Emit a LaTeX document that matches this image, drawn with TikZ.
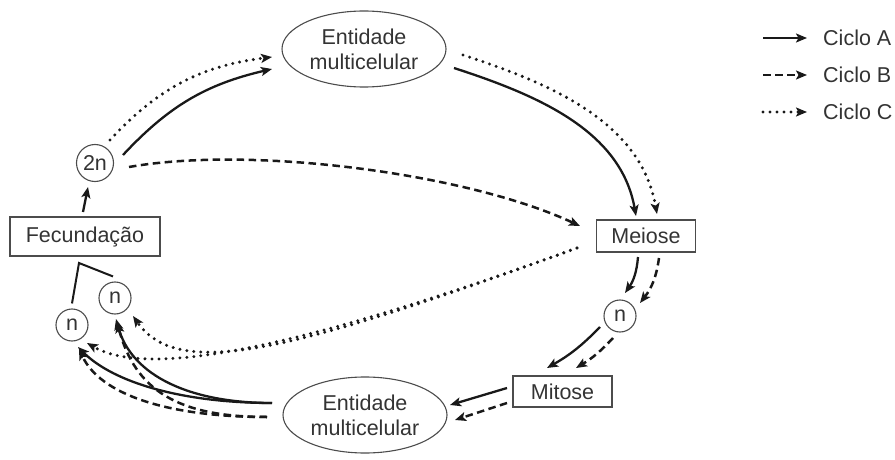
\documentclass[tikz,border=0pt]{standalone}
\usepackage{fontspec}
\setmainfont{Liberation Sans}
\usetikzlibrary{arrows.meta,shapes.geometric,positioning}

\begin{document}
\begin{tikzpicture}[x=1pt,y=1pt,
        every node/.style={text=black!80,font=\fontsize{21.5}{25}\selectfont,align=center},
        entidade/.style={ellipse,draw=black!70,line width=1.1pt,minimum width=164pt,minimum height=76pt,inner sep=0},
        caixa/.style={rectangle,draw=black!70,line width=1.1pt,inner sep=0},
        celula/.style={circle,draw=black!70,line width=1.1pt,minimum size=32pt,inner sep=0},
        cicloA/.style={draw=black!90,line width=2.3pt,-{Stealth[length=11pt,width=9pt,inset=2.5pt]}},
        cicloB/.style={cicloA,line width=2.5pt,dash pattern=on 7.5pt off 4.5pt},
        cicloC/.style={cicloA,line width=3.3pt,line cap=round,dash pattern=on 0pt off 7pt},
        ligacao/.style={draw=black!90,line width=2pt},
        ]
\useasboundingbox (0,0) rectangle (895,459);

\node[entidade] (ent1) at (364,410) {Entidade\\multicelular};
\node[entidade] (ent2) at (365,44) {Entidade\\multicelular};
\node[celula,minimum size=37pt] (zig) at (95,296) {2n};
\node[caixa,minimum width=150pt,minimum height=39pt] (fec) at (85,222.5) {Fecundação};
\node[caixa,minimum width=99pt,minimum height=32pt] (mei) at (646,223) {Meiose};
\node[celula] (n1) at (620,143) {n};
\node[caixa,minimum width=99pt,minimum height=31pt] (mit) at (562.5,67.5) {Mitose};
\node[celula] (n2) at (72,134) {n};
\node[celula] (n3) at (115,161) {n};
\coordinate (canto) at (79,196);

% gametas -> fecundacao
\draw[ligacao] ([yshift=5pt]n2.north) -- (canto) -- ([shift={(-2,5)}]n3.north);

% ciclo A
\draw[cicloA] ([shift={(-2,24.5)}]fec.center) -- ([shift={(-7,-24)}]zig.center);
\draw[cicloA] ([shift={(28,8)}]zig.center) to[bend left=17] ([shift={(-92,-20)}]ent1.center);
\draw[cicloA] ([shift={(90,-19)}]ent1.center) to[out=-18,in=100,looseness=0.95] ([shift={(-10,20)}]mei.center);
\draw[cicloA] ([shift={(-8,-21)}]mei.center) to[bend left=15] ([shift={(5,23)}]n1.center);
\draw[cicloA] ([shift={(-20,-11)}]n1.center) to[bend left=8] ([shift={(-15.5,23.5)}]mit.center);
\draw[cicloA] ([shift={(-55.5,3.5)}]mit.center) -- ([shift={(85,10)}]ent2.center);
\draw[cicloA] ([shift={(-93,12)}]ent2.center) to[out=180,in=-75,out distance=80pt,in distance=60pt] ([shift={(1,-21)}]n3.center);
\draw[cicloA] ([shift={(-93,12)}]ent2.center) to[out=180,in=-45,out distance=90pt,in distance=50pt] ([shift={(6,-22)}]n2.center);

% ciclo B
\draw[cicloB] ([shift={(34,-4)}]zig.center) to[out=10,in=155,looseness=0.7] ([shift={(-66,10)}]mei.center);
\draw[cicloB] ([shift={(13,-22)}]mei.center) to[bend left=15] ([shift={(20,13)}]n1.center);
\draw[cicloB] ([shift={(-7,-22)}]n1.center) to[bend left=8] ([shift={(13.5,23.5)}]mit.center);
\draw[cicloB] ([shift={(-55.5,-11.5)}]mit.center) -- ([shift={(90,-5)}]ent2.center);
\draw[cicloB] ([shift={(-98,-2)}]ent2.center) to[out=180,in=-65,out distance=100pt,in distance=50pt] ([shift={(7,-24)}]n2.center);
\draw[cicloB] ([shift={(-98,-2)}]ent2.center) to[out=180,in=-75,out distance=90pt,in distance=70pt] ([shift={(2,-24)}]n3.center);

% ciclo C
\draw[cicloC] ([shift={(15,23)}]zig.center) to[bend left=20] ([shift={(-92,-8)}]ent1.center);
\draw[cicloC] ([shift={(99,-6)}]ent1.center) to[out=-18,in=100,looseness=0.95] ([shift={(11,22)}]mei.center);
\draw[cicloC] ([shift={(-69,-12)}]mei.center) to[out=200,in=-55,out distance=300pt,in distance=80pt] ([shift={(18,-18)}]n3.center);
\draw[cicloC] ([shift={(-69,-12)}]mei.center) to[out=200,in=-30,out distance=300pt,in distance=70pt] ([shift={(15,-18)}]n2.center);

% legenda
\coordinate (la) at (763,421);
\coordinate (lb) at (763,384);
\coordinate (lc) at (763,347);
\node[anchor=west,inner sep=0] (ta) at (823,421) {Ciclo A};
\node[anchor=west,inner sep=0] (tb) at (823,384) {Ciclo B};
\node[anchor=west,inner sep=0] (tc) at (823,347) {Ciclo C};
\draw[cicloA] (la) -- ([xshift=-16pt]ta.west);
\draw[cicloB] (lb) -- ([xshift=-16pt]tb.west);
\draw[cicloC] (lc) -- ([xshift=-16pt]tc.west);
\end{tikzpicture}
\end{document}
